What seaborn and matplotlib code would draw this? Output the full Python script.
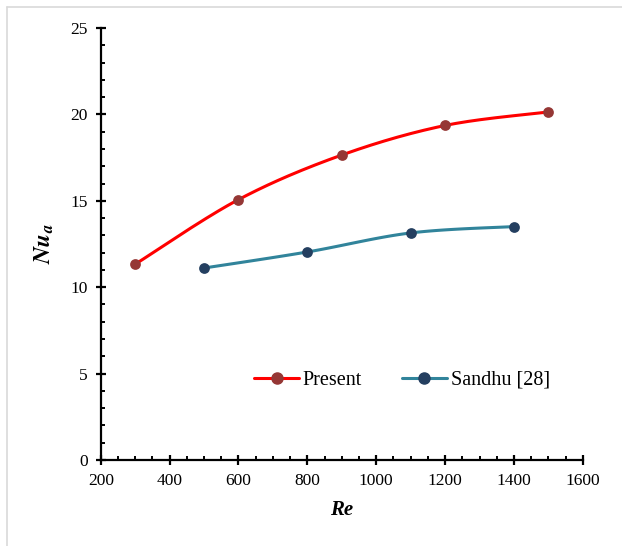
import numpy as np
import pandas as pd
import matplotlib
matplotlib.use("Agg")
import matplotlib.pyplot as plt
from matplotlib.lines import Line2D
from matplotlib.ticker import MultipleLocator
import seaborn as sns

# Nusselt number vs Reynolds number
re_present = [300, 600, 900, 1200, 1500]
nu_present = [11.33, 15.07, 17.65, 19.36, 20.14]
re_sandhu = [500, 800, 1100, 1400]
nu_sandhu = [11.11, 12.04, 13.14, 13.51]
series_names = ["Present", "Sandhu [28]"]
x_ticks = [200, 400, 600, 800, 1000, 1200, 1400, 1600]
y_ticks = [0, 5, 10, 15, 20, 25]

sns.set_theme(style="white")
plt.rcParams["font.family"] = ["Liberation Serif", "DejaVu Serif"]
plt.rcParams["mathtext.fontset"] = "stix"
plt.rcParams["text.color"] = "black"
plt.rcParams["axes.labelcolor"] = "black"


def smooth(xs, ys, n=40, xr=1400.0, yr=25.0):
    """Catmull-Rom style smoothing like spreadsheet 'smoothed line' charts."""
    p = np.column_stack([np.asarray(xs, float) / xr, np.asarray(ys, float) / yr])
    p = np.vstack([p[0], p, p[-1]])
    out = []
    for i in range(1, len(p) - 2):
        p0, p1, p2, p3 = p[i - 1], p[i], p[i + 1], p[i + 2]
        c1 = p1 + (p2 - p0) / 6.0
        c2 = p2 - (p3 - p1) / 6.0
        t = np.linspace(0, 1, n)[:, None]
        seg = ((1 - t) ** 3) * p1 + 3 * ((1 - t) ** 2) * t * c1 + 3 * (1 - t) * t ** 2 * c2 + t ** 3 * p2
        out.append(seg if i == 1 else seg[1:])
    s = np.vstack(out)
    return s[:, 0] * xr, s[:, 1] * yr


fig = plt.figure(figsize=(6.22, 5.46), dpi=100)
ax = fig.add_axes([0.162, 0.1575, 0.775, 0.7912])

line_colors = ["#FF0000", "#31849B"]
marker_colors = ["#953735", "#243F60"]

for (xs, ys), lc, mc, name in zip(
    [(re_present, nu_present), (re_sandhu, nu_sandhu)], line_colors, marker_colors, series_names
):
    sx, sy = smooth(xs, ys)
    curve = pd.DataFrame({"Re": sx, "Nu": sy})
    sns.lineplot(data=curve, x="Re", y="Nu", ax=ax, color=lc, linewidth=2.2, sort=False, zorder=2)
    pts = pd.DataFrame({"Re": xs, "Nu": ys})
    sns.scatterplot(data=pts, x="Re", y="Nu", ax=ax, color=mc, s=60, edgecolor=mc, linewidth=0, zorder=3)

ax.set_xlim(200, 1600)
ax.set_ylim(0, 25)
ax.set_xticks(x_ticks)
ax.set_yticks(y_ticks)
ax.xaxis.set_minor_locator(MultipleLocator(50))
ax.yaxis.set_minor_locator(MultipleLocator(1))

for side in ["top", "right"]:
    ax.spines[side].set_visible(False)
for side in ["left", "bottom"]:
    ax.spines[side].set_color("black")
    ax.spines[side].set_linewidth(1.6)

ax.tick_params(axis="both", which="major", direction="inout", length=7, width=1.6,
               color="black", labelsize=12.5, labelcolor="black", pad=6, left=True, bottom=True)
ax.tick_params(axis="both", which="minor", direction="in", length=3, width=1.4,
               color="black", left=True, bottom=True)

ax.set_xlabel("Re", fontsize=15, fontweight="bold", fontstyle="italic", labelpad=8, color="black")
ax.set_ylabel(r"$\mathbfit{Nu}_{\mathbfit{a}}$", fontsize=17, labelpad=10, color="black")

handles = [
    Line2D([], [], color=lc, lw=2.2, marker="o", markersize=8,
           markerfacecolor=mc, markeredgecolor=mc)
    for lc, mc in zip(line_colors, marker_colors)
]
leg = ax.legend(handles, series_names, loc="center", bbox_to_anchor=(0.625, 0.185), ncol=2,
                frameon=False, fontsize=14.5, handlelength=2.2, handletextpad=0.2,
                columnspacing=2.0)
for txt in leg.get_texts():
    txt.set_color("black")

# light frame around the figure
fig.add_artist(Line2D([7 / 622, 1.0], [1 - 7 / 546, 1 - 7 / 546], transform=fig.transFigure,
                      color="#d9d9d9", lw=1.2))
fig.add_artist(Line2D([7 / 622, 7 / 622], [0.0, 1 - 7 / 546], transform=fig.transFigure,
                      color="#d9d9d9", lw=1.2))

fig.savefig("out.png", dpi=100)
